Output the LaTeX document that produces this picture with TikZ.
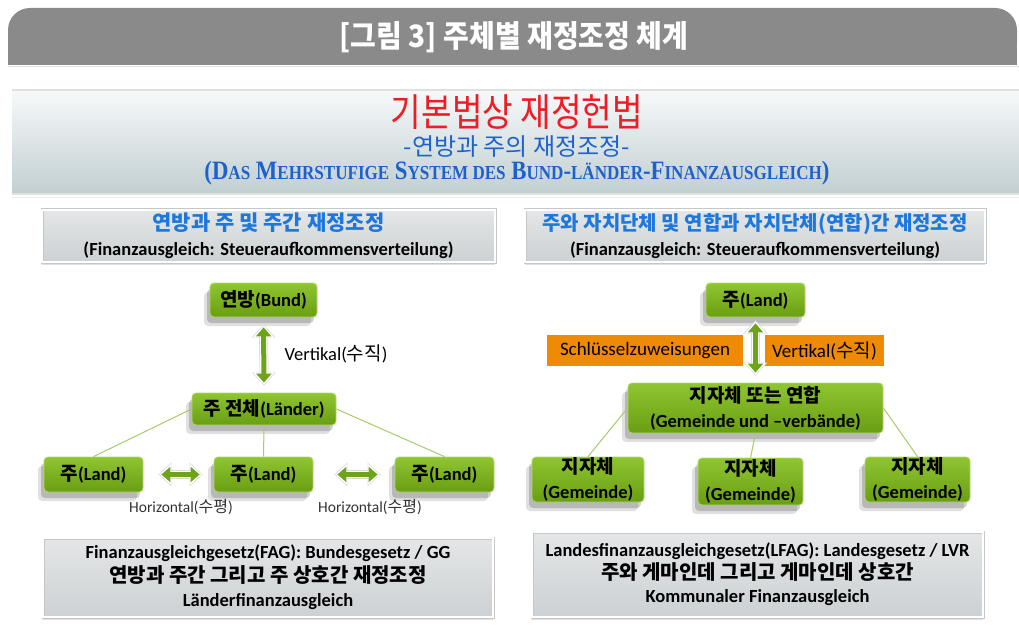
\documentclass[tikz,border=0pt]{standalone}
\usepackage{fontspec}
\usepackage{graphicx}
\setmainfont{Carlito}
\newfontfamily\krf{Noto Sans CJK KR}
\newfontfamily\serf{Liberation Serif}
\usetikzlibrary{shadows,arrows.meta}
\definecolor{hdr}{HTML}{8A8A8A}
\definecolor{bantop}{HTML}{F6F9FA}
\definecolor{banbot}{HTML}{C2CFD1}
\definecolor{kred}{HTML}{EE1C25}
\definecolor{hblue}{HTML}{1E78DC}
\definecolor{sblue}{HTML}{1D62CC}
\definecolor{gtop}{HTML}{8FC531}
\definecolor{gbot}{HTML}{6A9E13}
\definecolor{gline}{HTML}{A5CB6A}
\definecolor{garrow}{HTML}{6FA31A}
\definecolor{orng}{HTML}{EF8A05}
\definecolor{btop}{HTML}{E4E6E7}
\definecolor{bbot}{HTML}{CDD1D3}
\newcommand\K[1]{{\krf #1}}
\newcommand\fs[1]{\fontsize{#1}{#1}\selectfont}
\newcommand\sm[1]{{\fontsize{15}{15}\selectfont #1}}
\tikzset{
  graybox/.style={draw=black!22, double=white, double distance=2pt, line width=0.5pt,
    top color=btop, bottom color=bbot,
    drop shadow={opacity=0.25, shadow xshift=0pt, shadow yshift=-3pt},
    align=center, inner sep=0pt},
  gbox/.style={rounded corners=4pt, top color=gtop, bottom color=gbot,
    draw=gtop!70!white, line width=0.8pt,
    drop shadow={opacity=0.12, fill=black, shadow xshift=-6pt, shadow yshift=-9pt},
    drop shadow={opacity=0.18, fill=black, shadow xshift=-3pt, shadow yshift=-6pt},
    align=center, inner sep=0pt, font=\bfseries\fontsize{18.5}{25}\selectfont},
  obox/.style={fill=orng, inner sep=0pt, font=\fs{19}},
  conn/.style={gline, line width=1pt},
  aout/.style={line width=9pt, draw=black!15,
    {Triangle[width=23pt,length=13pt]}-{Triangle[width=23pt,length=13pt]}},
  awhite/.style={line width=7.5pt, draw=white,
    {Triangle[width=20pt,length=11.5pt]}-{Triangle[width=20pt,length=11.5pt]}},
  ain/.style={line width=5pt, draw=garrow,
    {Triangle[width=15pt,length=9pt]}-{Triangle[width=15pt,length=9pt]}},
}
\begin{document}
\begin{tikzpicture}[x=1pt,y=-1pt]
\useasboundingbox (0,0) rectangle (1019,636);
% header bar
\fill[hdr, rounded corners=22pt] (8,8) rectangle (1017,65);
\fill[hdr] (8,40) rectangle (1017,65);
\draw[black!12, line width=1.5pt] (8,66.5) -- (1019,66.5);
\node[font=\krf\bfseries\fs{28}, text=white] (title) at (514,37) {\scalebox{1}[1.1]{[그림 3] 주체별 재정조정 체계}};
% banner
\shade[top color=bantop, bottom color=banbot] (12,91) rectangle (1019,193);
\draw[black!12, line width=2pt] (12,90) -- (1019,90);
\draw[black!12, line width=1.5pt] (12,194) -- (1019,194);
\draw[black!8, line width=1pt] (12,198) -- (1019,198);
\node[font=\krf\fs{35}, text=kred, inner sep=0pt] (main) at (517,112) {\scalebox{0.95}[1.1]{기본법상 재정헌법}};
\node[font=\krf\fs{24}, text=sblue, inner sep=0pt] (sub) at (517,147) {-연방과 주의 재정조정-};
\node[text=sblue, inner sep=0pt] (sys) at (517,173.5) {\resizebox*{625pt}{24pt}{\serf\bfseries\fontsize{20}{20}\selectfont (D\sm{AS} M\sm{EHRSTUFIGE} S\sm{YSTEM DES} B\sm{UND}-\sm{LÄNDER}-F\sm{INANZAUSGLEICH})}};
% header boxes
\node[graybox, minimum width=453, minimum height=52, font=\bfseries\fontsize{18.5}{25}\selectfont] (lh) at (268.5,236)
  {{\color{hblue}\K{\fs{21}연방과 주 및 주간 재정조정}}\\(Finanzausgleich: Steueraufkommensverteilung)};
\node[graybox, minimum width=460, minimum height=52, font=\bfseries\fontsize{18.5}{25}\selectfont] (rh) at (755,236)
  {{\color{hblue}\K{\fs{20}주와 자치단체 및 연합과 자치단체(연합)간 재정조정}}\\(Finanzausgleich: Steueraufkommensverteilung)};
% left tree
\node[gbox, minimum width=107, minimum height=34] (bund) at (263.5,300) {\K{\fs{19}연방}(Bund)};
\node[gbox, minimum width=144, minimum height=32] (laender) at (264,409) {\K{\fs{19}주 전체}(Länder)};
\node[gbox, minimum width=99, minimum height=35] (land1) at (93.5,474.5) {\K{\fs{19}주}(Land)};
\node[gbox, minimum width=99, minimum height=35] (land2) at (263.5,474.5) {\K{\fs{19}주}(Land)};
\node[gbox, minimum width=99, minimum height=35] (land3) at (444.5,474.5) {\K{\fs{19}주}(Land)};
\draw[conn] (laender.west) -- (land1.north);
\draw[conn] (laender.south) -- (land2.north);
\draw[conn] (laender.east) -- (land3.north);
\draw[aout, shorten <=7pt, shorten >=7pt] (bund.south) -- (laender.north);
\draw[awhite, shorten <=8pt, shorten >=8pt] (bund.south) -- (laender.north);
\draw[ain, shorten <=10pt, shorten >=10pt] (bund.south) -- (laender.north);
\node[font=\fs{18.5}, anchor=west] (vlab) at (281,354) {Vertikal(\K{\fs{19}수직})};
\draw[aout, shorten <=15pt, shorten >=11pt] (land1.east) -- (land2.west);
\draw[awhite, shorten <=16pt, shorten >=12pt] (land1.east) -- (land2.west);
\draw[ain, shorten <=18pt, shorten >=14pt] (land1.east) -- (land2.west);
\draw[aout, shorten <=21pt, shorten >=14pt] (land2.east) -- (land3.west);
\draw[awhite, shorten <=22pt, shorten >=15pt] (land2.east) -- (land3.west);
\draw[ain, shorten <=24pt, shorten >=17pt] (land2.east) -- (land3.west);
\node[font=\fs{15.5}, text=black!80] (h1) at (181,507) {Horizontal(\K{\fs{16}수평})};
\node[font=\fs{15.5}, text=black!80] (h2) at (370,507) {Horizontal(\K{\fs{16}수평})};
% right tree
\node[gbox, minimum width=99, minimum height=34] (rland) at (755.5,300) {\K{\fs{19}주}(Land)};
\node[obox, minimum width=196, minimum height=31] (schl) at (645,350.5) {Schlüsselzuweisungen};
\node[obox, minimum width=119, minimum height=31] (vert2) at (824.5,350.5) {Vertikal(\K{\fs{19}수직})};
\node[gbox, minimum width=255, minimum height=50] (gv) at (755.5,408) {\K{\fs{19}지자체 또는 연합}\\(Gemeinde und –verbände)};
\node[gbox, minimum width=112, minimum height=45] (g1) at (588,479.5) {\K{\fs{19}지자체}\\(Gemeinde)};
\node[gbox, minimum width=105, minimum height=47] (g2) at (750.5,481.5) {\K{\fs{19}지자체}\\(Gemeinde)};
\node[gbox, minimum width=105, minimum height=45] (g3) at (917.5,479.5) {\K{\fs{19}지자체}\\(Gemeinde)};
\draw[conn] (gv.west) -- (g1.north);
\draw[conn] (gv.south) -- (g2.north);
\draw[conn] (gv.east) -- (g3.north);
\draw[aout, shorten <=3pt, shorten >=7pt] (rland.south) -- (gv.north);
\draw[awhite, shorten <=4pt, shorten >=8pt] (rland.south) -- (gv.north);
\draw[ain, shorten <=6pt, shorten >=10pt] (rland.south) -- (gv.north);
% bottom boxes
\node[graybox, minimum width=450, minimum height=79, font=\bfseries\fontsize{18.5}{24}\selectfont] (lb) at (268,577.5)
  {Finanzausgleichgesetz(FAG): Bundesgesetz / GG\\\K{\fs{20}연방과 주간 그리고 주 상호간 재정조정}\\Länderfinanzausgleich};
\node[graybox, minimum width=451, minimum height=85, font=\bfseries\fontsize{18.5}{23}\selectfont] (rb) at (757.5,574.5)
  {Landesfinanzausgleichgesetz(LFAG): Landesgesetz / LVR\\\K{\fs{20}주와 게마인데 그리고 게마인데 상호간}\\Kommunaler Finanzausgleich};
\end{tikzpicture}
\end{document}
